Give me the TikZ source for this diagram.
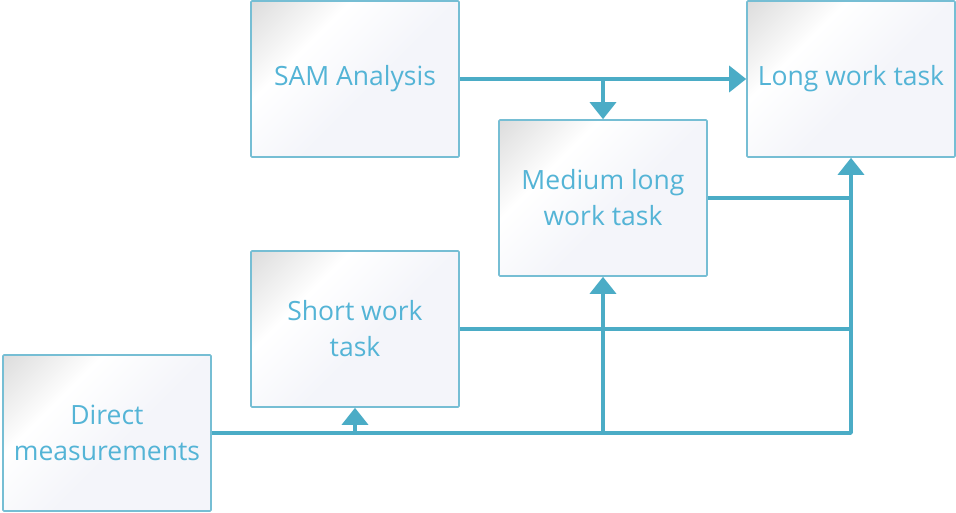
\documentclass[tikz,border=0pt]{standalone}
\usepackage{fontspec}
\setmainfont{Open Sans}
\usetikzlibrary{positioning, arrows.meta}

\definecolor{taskline}{RGB}{75,172,198}
\definecolor{taskborder}{RGB}{118,190,212}
\definecolor{tasktext}{RGB}{84,180,214}
\definecolor{taskpale}{RGB}{244,245,250}
\pgfdeclarehorizontalshading{taskfill}{100bp}{color(0bp)=(black!20); color(14bp)=(black!14); color(34bp)=(white); color(55bp)=(taskpale); color(100bp)=(taskpale)}

\tikzset{
  taskbox/.style={draw=taskborder, line width=1.6pt, rounded corners=1pt,
    shading=taskfill, shading angle=-45,
    minimum width=208pt, minimum height=156pt, inner sep=0pt,
    align=center, text=tasktext, font=\fontsize{26.5}{36}\selectfont},
  flow/.style={draw=taskline, line width=3.6pt, line join=round}
}

\begin{document}
\begin{tikzpicture}
	[x=1pt, y=-1pt, on grid, >={Triangle[length=17pt, width=26pt]}]
   \useasboundingbox (0,0) rectangle (956,512);
   \node[taskbox] (sam) at (355,79) {SAM Analysis};
   \node[taskbox] (long) [right=496pt of sam] {Long work task};
   \node[taskbox] (medium) [below right=119pt and 248pt of sam] {Medium long\\work task};
   \node[taskbox] (short) [below=250pt of sam] {Short work\\task};
   \node[taskbox] (direct) [below left=104pt and 248pt of short] {Direct\\measurements};
    \path[flow, ->] (sam) -- (long);
    \path[flow, ->] (sam -| medium) -- (medium);
    \path[flow] (medium.east) -- (medium.east -| long);
    \path[flow] (short.east) -- (short.east -| long);
    \path[flow, ->] (direct.east) -| (long.south);
    \path[flow, ->] (direct.east -| short) -- (short.south);
    \path[flow, ->] (direct.east -| medium) -- (medium.south);
\end{tikzpicture}
\end{document}
